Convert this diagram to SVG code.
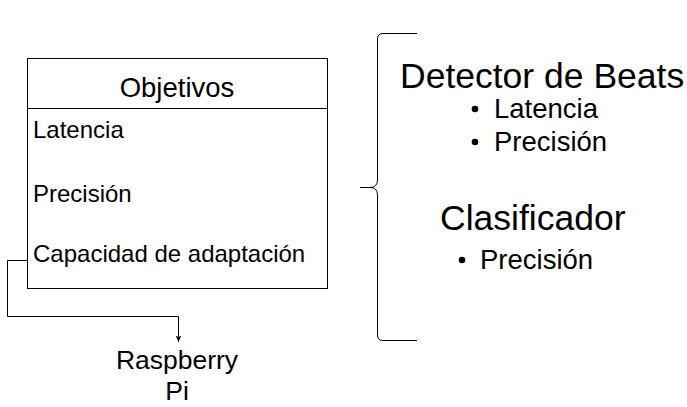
<svg xmlns="http://www.w3.org/2000/svg" width="687" height="407" viewBox="0 0 687 407">
<style>
text{font-family:"Liberation Sans",Arial,sans-serif;fill:#000}
.box{fill:#fff;stroke:#000;stroke-width:1}
.ln{fill:none;stroke:#000;stroke-width:1}
.item{font-size:24px}
.big{font-size:35.5px}
.bul{font-size:27.5px}
</style>
<defs>
<marker id="arr" viewBox="0 0 10 10" refX="9" refY="5" markerWidth="7" markerHeight="7" orient="auto" markerUnits="userSpaceOnUse">
<path d="M0,1 L9,5 L0,9 L2,5 Z" fill="#000"/>
</marker>
</defs>
<rect width="687" height="407" fill="#fff"/>
<g id="objetivos">
<rect class="box" x="27.5" y="58.5" width="300" height="230"/>
<line class="ln" x1="27.5" y1="108.5" x2="327.5" y2="108.5"/>
<text x="177" y="97" font-size="27.5" text-anchor="middle">Objetivos</text>
<text class="item" x="33" y="138">Latencia</text>
<text class="item" x="33" y="202">Precisión</text>
<text class="item" x="33" y="262">Capacidad de adaptación</text>
</g>
<g id="raspberry">
<text x="177" y="369" font-size="26.5" text-anchor="middle">Raspberry</text>
<text x="177" y="400" font-size="26.5" text-anchor="middle">Pi</text>
</g>
<g id="brace">
<path class="ln" d="M417,33.5 H383 Q377.5,33.5 377.5,39 V180 Q377.5,187.5 370,187.5 H360 M370,187.5 Q377.5,187.5 377.5,195 V335 Q377.5,340.5 383,340.5 H417"/>
</g>
<g id="detector">
<text class="big" x="400" y="88">Detector de Beats</text>
<circle cx="475" cy="109" r="3.3"/>
<text class="bul" x="494" y="118">Latencia</text>
<circle cx="475" cy="142" r="3.3"/>
<text class="bul" x="494" y="151">Precisión</text>
</g>
<g id="clasificador">
<text class="big" x="440" y="230">Clasificador</text>
<circle cx="462" cy="260" r="3.3"/>
<text class="bul" x="480" y="269">Precisión</text>
</g>
<g id="connectors">
<path class="ln" d="M27.5,260.5 H7.5 V316.5 H178.5 V342" marker-end="url(#arr)"/>
</g>
</svg>
